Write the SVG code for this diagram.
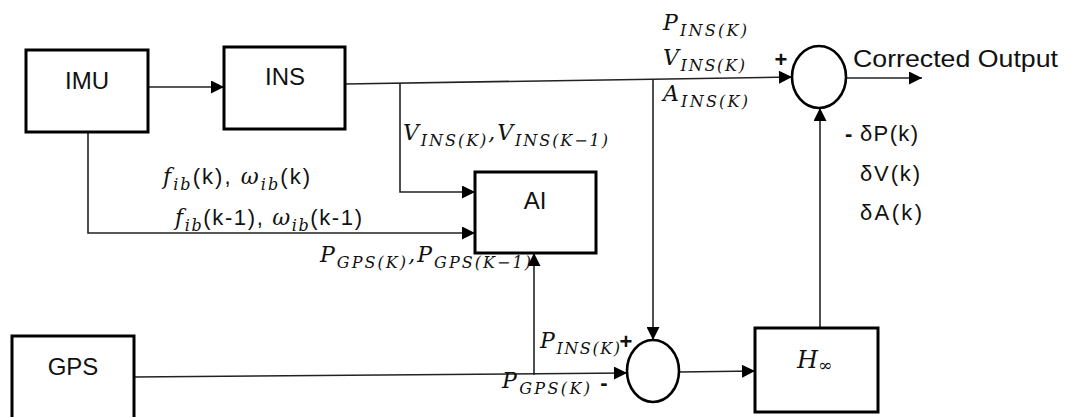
<svg xmlns="http://www.w3.org/2000/svg" width="1069" height="417" viewBox="0 0 1069 417">
<style>
.box{fill:#fff;stroke:#000;stroke-width:3}
.sum{fill:#fff;stroke:#000;stroke-width:2.6}
.wire{fill:none;stroke:#222;stroke-width:1.6}
.lbl{font-family:"Liberation Sans",Arial,sans-serif;font-size:24px;fill:#111}
.sn{font-family:"Liberation Sans",Arial,sans-serif;font-size:22px;fill:#111}
.m{font-family:"DejaVu Serif","Liberation Serif",serif;font-style:italic;font-size:22px;fill:#111}
.s{font-size:16px}
.mi{font-family:"DejaVu Serif","Liberation Serif",serif;font-style:italic}
.sg{font-family:"Liberation Sans",Arial,sans-serif;font-weight:bold;font-size:22px;fill:#111}
</style>
<defs>
<marker id="ah" viewBox="0 0 10 10" refX="10" refY="5" markerWidth="15" markerHeight="13" markerUnits="userSpaceOnUse" orient="auto"><path d="M0,0 L10,5 L0,10 z" fill="#000"/></marker>
</defs>
<rect width="1069" height="417" fill="#fff"/>
<g id="connectors">
<path class="wire" d="M148,87 L224,87" marker-end="url(#ah)"/>
<path class="wire" d="M345,84 L792,77" marker-end="url(#ah)"/>
<path class="wire" d="M400,83 L400,192 L475,192" marker-end="url(#ah)"/>
<path class="wire" d="M653,79 L653,340" marker-end="url(#ah)"/>
<path class="wire" d="M88,132 L88,233 L475,233" marker-end="url(#ah)"/>
<path class="wire" d="M134,377 L627,373" marker-end="url(#ah)"/>
<path class="wire" d="M534,375 L534,253" marker-end="url(#ah)"/>
<path class="wire" d="M679,372 L755,371" marker-end="url(#ah)"/>
<path class="wire" d="M820,328 L820,108" marker-end="url(#ah)"/>
<path class="wire" d="M846,78 L922,78" marker-end="url(#ah)"/>
</g>
<g id="imu"><rect class="box" x="26" y="50" width="122" height="82"/><text class="lbl" x="87" y="89" text-anchor="middle">IMU</text></g>
<g id="ins"><rect class="box" x="224" y="47" width="121" height="82"/><text class="lbl" x="285" y="85" text-anchor="middle">INS</text></g>
<g id="ai"><rect class="box" x="475" y="172" width="121" height="81"/><text class="lbl" x="535" y="209" text-anchor="middle">AI</text></g>
<g id="gps"><rect class="box" x="12" y="336" width="122" height="90"/><text class="lbl" x="73" y="375" text-anchor="middle">GPS</text></g>
<g id="hinf"><rect class="box" x="755" y="328" width="123" height="84"/><text class="m" x="797" y="368" style="font-size:24px">H<tspan class="s" dy="3" style="font-size:17px;font-style:normal">∞</tspan></text></g>
<g id="sum-top"><ellipse class="sum" cx="819" cy="77" rx="27" ry="31"/><text class="sg" x="781" y="67" text-anchor="middle">+</text></g>
<g id="sum-bottom"><ellipse class="sum" cx="653" cy="371" rx="26" ry="31"/><text class="sg" x="626" y="349" text-anchor="middle">+</text><text class="sg" x="604" y="390" text-anchor="middle">-</text></g>
<g id="labels">
<text class="lbl" x="853" y="67" textLength="205" lengthAdjust="spacingAndGlyphs">Corrected Output</text>
<text class="m" x="663" y="30" textLength="84" lengthAdjust="spacing">P<tspan class="s" dy="6">INS(K)</tspan></text>
<text class="m" x="663" y="65" textLength="82" lengthAdjust="spacing">V<tspan class="s" dy="6">INS(K)</tspan></text>
<text class="m" x="663" y="101" textLength="85" lengthAdjust="spacing">A<tspan class="s" dy="6">INS(K)</tspan></text>
<text class="m" x="403" y="140" textLength="205" lengthAdjust="spacing">V<tspan class="s" dy="6">INS(K)</tspan><tspan dy="-6">,V</tspan><tspan class="s" dy="6">INS(K−1)</tspan></text>
<text class="sn" x="163" y="184" textLength="147" lengthAdjust="spacing"><tspan class="mi">f</tspan><tspan class="mi s" dy="6">ib</tspan><tspan dy="-6">(k), </tspan><tspan class="mi">ω</tspan><tspan class="mi s" dy="6">ib</tspan><tspan dy="-6">(k)</tspan></text>
<text class="sn" x="175" y="225" textLength="187" lengthAdjust="spacing"><tspan class="mi">f</tspan><tspan class="mi s" dy="6">ib</tspan><tspan dy="-6">(k-1), </tspan><tspan class="mi">ω</tspan><tspan class="mi s" dy="6">ib</tspan><tspan dy="-6">(k-1)</tspan></text>
<text class="m" x="320" y="262" textLength="211" lengthAdjust="spacing">P<tspan class="s" dy="6">GPS(K)</tspan><tspan dy="-6">,P</tspan><tspan class="s" dy="6">GPS(K−1)</tspan></text>
<text class="m" x="540" y="348" textLength="80" lengthAdjust="spacing">P<tspan class="s" dy="6">INS(K)</tspan></text>
<text class="m" x="502" y="388" textLength="88" lengthAdjust="spacing">P<tspan class="s" dy="6">GPS(K)</tspan></text>
<text class="sg" x="845" y="141">-</text>
<text class="sn" x="860" y="141" textLength="58" lengthAdjust="spacing">δP(k)</text>
<text class="sn" x="860" y="181" textLength="60" lengthAdjust="spacing">δV(k)</text>
<text class="sn" x="860" y="220" textLength="62" lengthAdjust="spacing">δA(k)</text>
</g>
</svg>
